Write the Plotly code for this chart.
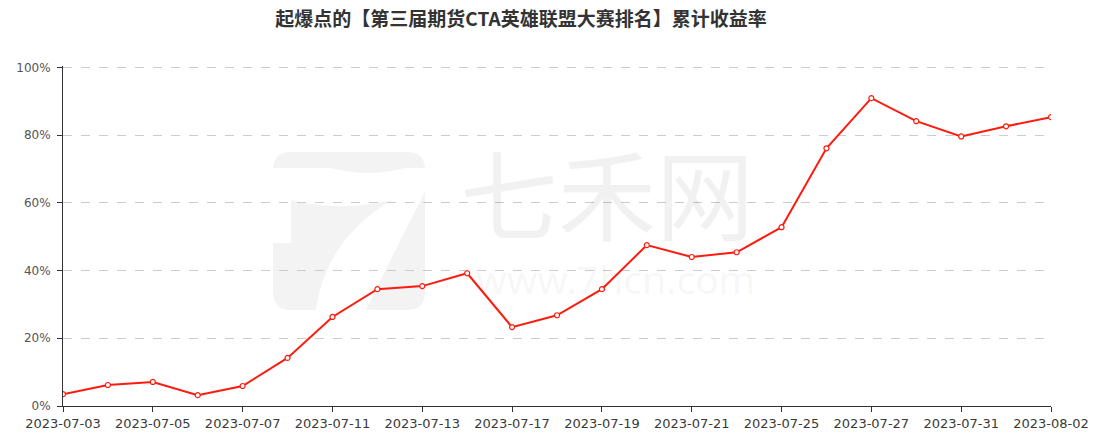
import plotly.graph_objects as go

dates = ["2023-07-03", "2023-07-04", "2023-07-05", "2023-07-06", "2023-07-07",
         "2023-07-10", "2023-07-11", "2023-07-12", "2023-07-13", "2023-07-14",
         "2023-07-17", "2023-07-18", "2023-07-19", "2023-07-20", "2023-07-21",
         "2023-07-24", "2023-07-25", "2023-07-26", "2023-07-27", "2023-07-28",
         "2023-07-31", "2023-08-01", "2023-08-02"]
returns = [0.035, 0.062, 0.071, 0.032, 0.059, 0.142, 0.263, 0.345, 0.354, 0.392,
           0.233, 0.268, 0.345, 0.475, 0.440, 0.454, 0.528, 0.761, 0.909, 0.841,
           0.796, 0.826, 0.853]
y_ticks = [0, 0.2, 0.4, 0.6, 0.8, 1.0]
y_tick_text = ["0%", "20%", "40%", "60%", "80%", "100%"]
title = "起爆点的【第三届期货CTA英雄联盟大赛排名】累计收益率"

W, H = 1094, 434
ML, MR, MT, MB = 63, 43, 66, 28
PW, PH = W - ML - MR, H - MT - MB


def px(x, y):
    """pixel position -> paper coordinates (for decorative watermark only)"""
    return (x - ML) / PW, (H - MB - y) / PH


def path(cmds):
    out = []
    for c in cmds:
        op, pts = c[0], c[1:]
        coords = []
        for i in range(0, len(pts), 2):
            a, b = px(pts[i], pts[i + 1])
            coords.append(f"{a:.5f},{b:.5f}")
        out.append(op + " ".join(coords))
    return " ".join(out) + " Z"


fig = go.Figure()
fig.add_trace(go.Scatter(
    x=dates, y=returns, mode="lines+markers",
    line=dict(color="#ff1a0e", width=2),
    marker=dict(size=5, color="white", line=dict(color="#ff1a0e", width=1.2)),
    hovertemplate="%{x}: %{y:.2%}<extra></extra>",
))

# watermark logo (decorative)
logo = path([("M", 291, 152), ("L", 407, 152), ("Q", 425, 152, 425, 170),
             ("L", 425, 292), ("Q", 425, 310, 407, 310), ("L", 291, 310),
             ("Q", 273, 310, 273, 292), ("L", 273, 170), ("Q", 273, 152, 291, 152)])
cut = path([("M", 273, 168), ("L", 330, 168), ("Q", 370, 178, 405, 168),
            ("L", 425, 168), ("L", 425, 192), ("Q", 395, 250, 366, 310),
            ("L", 316, 310), ("Q", 325, 240, 392, 200), ("Q", 340, 212, 291, 200),
            ("L", 291, 243), ("L", 273, 243)])
fig.add_shape(type="path", path=logo, xref="paper", yref="paper",
              fillcolor="#f3f3f3", line=dict(width=0), layer="below")
fig.add_shape(type="path", path=cut, xref="paper", yref="paper",
              fillcolor="white", line=dict(width=0), layer="below")

wm = "rgba(0,0,0,0.055)"
wx, wy = px(607, 190)
fig.add_annotation(text="七禾网", xref="paper", yref="paper", x=wx, y=wy,
                   showarrow=False, borderpad=0,
                   font=dict(size=98, color=wm, family="Noto Sans CJK SC"))
wx2, wy2 = px(615, 306)
fig.add_annotation(text="www.7hcn.com", xref="paper", yref="paper", x=wx2, y=wy2,
                   showarrow=False, borderpad=0,
                   font=dict(size=39, color=wm, family="Noto Sans"))

fig.update_layout(
    width=W, height=H,
    margin=dict(l=ML, r=MR, t=MT, b=MB, autoexpand=False),
    paper_bgcolor="white", plot_bgcolor="white",
    showlegend=False,
    title=dict(text="<b>" + title + "</b>", x=521 / W, xanchor="center",
               y=1 - 19 / H, yanchor="middle",
               font=dict(size=19, color="#333333", family="Noto Sans CJK SC")),
    font=dict(family="DejaVu Sans, sans-serif"),
)
fig.update_xaxes(
    type="category", range=[0, len(dates) - 1], automargin=False,
    tickvals=dates[::2], ticktext=dates[::2],
    showgrid=False, showline=True, linecolor="#333333", linewidth=1,
    ticks="outside", ticklen=5, tickcolor="#333333",
    tickfont=dict(size=13, color="#3a3a3a", family="DejaVu Sans"),
    zeroline=False,
)
fig.update_yaxes(
    range=[0, 1.004], tickvals=y_ticks, ticktext=y_tick_text, automargin=False,
    showgrid=True, gridcolor="#cccccc", griddash="dash", gridwidth=1,
    showline=True, linecolor="#333333", linewidth=1,
    ticks="outside", ticklen=5, tickcolor="#333333",
    tickfont=dict(size=12, color="#555555", family="DejaVu Sans"),
    ticklabelstandoff=4,
    zeroline=False,
)

fig.write_html("out.html", config={"displayModeBar": False},
               post_script="document.body.style.margin='0';document.body.style.padding='0';")
